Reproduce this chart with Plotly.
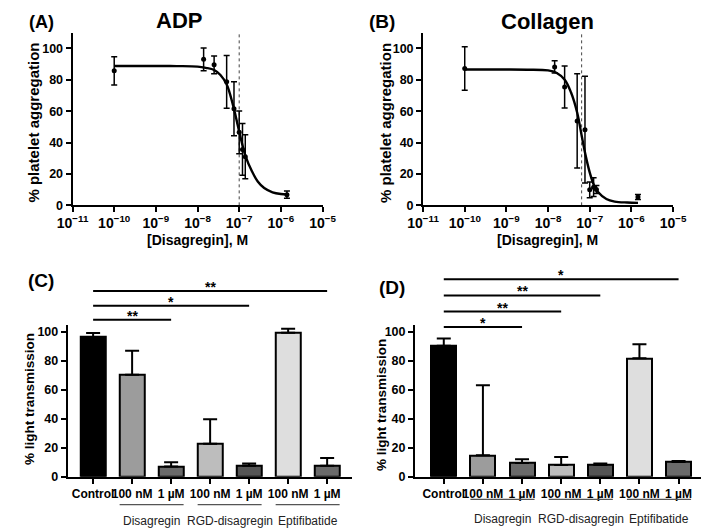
import plotly.graph_objects as go

# ---------------- data ----------------
# (A) ADP dose-response
adp_conc = [1e-10, 1.4e-8, 2.5e-8, 5e-8, 7.5e-8, 1e-7, 1.2e-7, 1.4e-7, 1.4e-6]
adp_mean = [85.7, 93.0, 89.5, 78.7, 61.5, 46.5, 35.6, 31.0, 6.8]
adp_sd = [9.0, 7.3, 5.6, 16.8, 17.2, 13.6, 16.5, 14.0, 2.3]
adp_fit_logx = [-10, -9, -8.5, -8, -7.8, -7.6, -7.45, -7.3, -7.15, -7.0, -6.85, -6.7, -6.55, -6.4, -6.2, -6.0, -5.85]
adp_fit_y = [88.8, 88.8, 88.7, 88.4, 87.6, 86.2, 83.0, 77.0, 64.0, 47.0, 31.5, 22.0, 15.0, 11.0, 8.3, 7.2, 6.9]
adp_ic50 = 1e-7

# (B) Collagen dose-response
col_conc = [1e-10, 1.44e-8, 2.5e-8, 5e-8, 7.7e-8, 1e-7, 1.24e-7, 1.45e-7, 1.44e-6]
col_mean = [87.2, 88.2, 75.4, 53.8, 48.2, 9.9, 11.6, 10.1, 5.3]
col_sd = [13.8, 3.9, 13.4, 30.0, 34.0, 5.0, 6.0, 2.6, 1.6]
col_fit_logx = [-10, -9, -8.5, -8, -7.8, -7.6, -7.45, -7.3, -7.19, -7.1, -7.0, -6.9, -6.8, -6.6, -6.4, -6.1, -5.84]
col_fit_y = [86.5, 86.5, 86.4, 86.0, 84.5, 80.0, 72.0, 59.0, 44.0, 32.0, 21.0, 13.0, 8.5, 4.0, 2.4, 1.8, 1.6]
col_ic50 = 6.4e-8

x_tick_exps = [-11, -10, -9, -8, -7, -6, -5]

# (C)/(D) bar charts
bar_labels = ["Control", "100 nM", "1 µM", "100 nM", "1 µM", "100 nM", "1 µM"]
bar_colors = ["#000000", "#9c9c9c", "#6a6a6a", "#bdbdbd", "#555555", "#dedede", "#6a6a6a"]
c_values = [96.5, 70.5, 7.0, 22.7, 7.5, 99.5, 7.5]
c_err = [2.8, 16.5, 3.0, 17.0, 1.6, 2.7, 5.5]
d_values = [90.5, 14.8, 9.5, 8.0, 8.0, 81.8, 10.2]
d_err = [5.0, 48.4, 2.5, 5.6, 1.1, 9.8, 0.7]

groups = ["Disagregin", "RGD-disagregin", "Eptifibatide"]
group_members = [[1, 2], [3, 4], [5, 6]]

# significance comparisons: (from bar, to bar, label)
c_sig = [(0, 2, "**"), (0, 4, "*"), (0, 6, "**")]
d_sig = [(0, 2, "*"), (0, 3, "**"), (0, 4, "**"), (0, 6, "*")]

# ---------------- layout helpers ----------------
W, H = 709, 528
FONT = "Liberation Sans, Arial, sans-serif"


def px(xp):
    return xp / W


def py(yp):
    return 1 - yp / H


fig = go.Figure()

# ---- (A) ----
fig.add_trace(go.Scatter(x=[adp_ic50, adp_ic50], y=[0, 110], mode="lines",
                         line=dict(color="#444444", width=1, dash="dot"),
                         xaxis="x", yaxis="y", hoverinfo="skip"))
fig.add_trace(go.Scatter(x=[10 ** v for v in adp_fit_logx], y=adp_fit_y, mode="lines",
                         line=dict(color="black", width=2.4, shape="spline"),
                         xaxis="x", yaxis="y"))
fig.add_trace(go.Scatter(x=adp_conc, y=adp_mean, mode="markers",
                         marker=dict(color="black", size=5),
                         error_y=dict(type="data", array=adp_sd, color="black", thickness=1.5, width=3),
                         xaxis="x", yaxis="y"))

# ---- (B) ----
fig.add_trace(go.Scatter(x=[col_ic50, col_ic50], y=[0, 110], mode="lines",
                         line=dict(color="#444444", width=1, dash="dot"),
                         xaxis="x2", yaxis="y2", hoverinfo="skip"))
fig.add_trace(go.Scatter(x=[10 ** v for v in col_fit_logx], y=col_fit_y, mode="lines",
                         line=dict(color="black", width=2.4, shape="spline"),
                         xaxis="x2", yaxis="y2"))
fig.add_trace(go.Scatter(x=col_conc, y=col_mean, mode="markers",
                         marker=dict(color="black", size=5),
                         error_y=dict(type="data", array=col_sd, color="black", thickness=1.5, width=3),
                         xaxis="x2", yaxis="y2"))

# ---- (C) & (D) bars ----
xs = list(range(len(bar_labels)))
for vals, errs, xa, ya in [(c_values, c_err, "x3", "y3"), (d_values, d_err, "x4", "y4")]:
    fig.add_trace(go.Bar(x=xs, y=vals, width=0.64,
                         marker=dict(color=bar_colors, line=dict(color="black", width=2)),
                         error_y=dict(type="data", symmetric=False, array=errs,
                                      arrayminus=[0] * len(errs), color="black",
                                      thickness=2, width=7),
                         xaxis=xa, yaxis=ya))

tickfont = dict(family=FONT, size=12.5, color="black", weight="bold")
common_axis = dict(showline=True, linecolor="black", linewidth=2, ticks="outside",
                   ticklen=5, tickwidth=2, tickcolor="black", showgrid=False,
                   zeroline=False, tickfont=tickfont, fixedrange=True)
logx_axis = {**common_axis, "tickfont": dict(tickfont, size=14), "ticklabelstandoff": -1}
barx_axis = {**common_axis, "tickfont": dict(tickfont, size=12)}

log_ticktext = ["10<sup>\u2212%d</sup>" % (-e) for e in x_tick_exps]
log_tickvals = [10 ** e for e in x_tick_exps]

ydom_top = [py(200), py(25)]
ydom_bot = [py(475), py(321)]

fig.update_layout(
    width=W, height=H,
    margin=dict(l=0, r=0, t=0, b=0),
    paper_bgcolor="white", plot_bgcolor="white",
    showlegend=False, bargap=0,
    font=dict(family=FONT, color="black"),
    xaxis=dict(domain=[px(50.7), px(311.7)], anchor="y", type="log", range=[-11, -5],
               tickvals=log_tickvals, ticktext=log_ticktext, tickangle=0, **logx_axis),
    yaxis=dict(domain=ydom_top, anchor="x", range=[0, 110], tickvals=[0, 20, 40, 60, 80, 100],
               **common_axis),
    xaxis2=dict(domain=[px(416.7), px(677.7)], anchor="y2", type="log", range=[-11, -5],
                tickvals=log_tickvals, ticktext=log_ticktext, tickangle=0, **logx_axis),
    yaxis2=dict(domain=ydom_top, anchor="x2", range=[0, 110], tickvals=[0, 20, 40, 60, 80, 100],
                **common_axis),
    xaxis3=dict(domain=[px(45.7), px(343)], anchor="y3", range=[-0.65, 6.65],
                tickvals=xs, ticktext=bar_labels, tickangle=0, **barx_axis),
    yaxis3=dict(domain=ydom_bot, anchor="x3", range=[0, 105], tickvals=[0, 20, 40, 60, 80, 100],
                **common_axis),
    xaxis4=dict(domain=[px(408.3), px(708)], anchor="y4", range=[-0.735, 6.6],
                tickvals=xs, ticktext=bar_labels, tickangle=0, **barx_axis),
    yaxis4=dict(domain=ydom_bot, anchor="x4", range=[0, 105], tickvals=[0, 20, 40, 60, 80, 100],
                **common_axis),
)

ann = []
shapes = []


def text(x, y, s, size, bold=True, angle=0, xanchor="center", yanchor="middle",
         xref="paper", yref="paper", color="black"):
    ann.append(dict(x=x, y=y, text=s, showarrow=False, xref=xref, yref=yref,
                    xanchor=xanchor, yanchor=yanchor, textangle=angle,
                    font=dict(family=FONT, size=size, color=color,
                              weight="bold" if bold else "normal")))


# panel letters and titles
text(px(3), py(14), "(A)", 18, xanchor="left")
text(px(358), py(14), "(B)", 19, xanchor="left")
text(px(2), py(276), "(C)", 19, xanchor="left")
text(px(369), py(283), "(D)", 19, xanchor="left")
text(px(161.5), py(13), "ADP", 22)
text(px(546.5), py(14), "Collagen", 22)

# axis titles
text(px(9.5), py(116), "% platelet aggregation", 15, angle=-90)
text(px(377.5), py(117), "% platelet aggregation", 15, angle=-90)
text(px(181.5), py(235), "[Disagregin], M", 14)
text(px(547), py(235), "[Disagregin], M", 14)
text(px(6.5), py(396), "% light transmission", 13.5, angle=-90)
text(px(373), py(402), "% light transmission", 13.5, angle=-90)

# significance bars
for sig, xa, line_ys in [(c_sig, "x3", [316, 301.7, 286.7]), (d_sig, "x4", [323.3, 307.7, 291.3, 275])]:
    for (a, b, lab), ly in zip(sig, line_ys):
        shapes.append(dict(type="line", xref=xa, yref="paper", x0=xs[a], x1=xs[b],
                           y0=py(ly), y1=py(ly), line=dict(color="black", width=2)))
        text((xs[a] + xs[b]) / 2, py(ly - 4), lab, 14, xref=xa)

# group lines + labels
for xa, line_y, lab_y in [("x3", 503.3, 519.5), ("x4", 498, 517.5)]:
    for g, members in zip(groups, group_members):
        c = sum(xs[m] for m in members) / len(members)
        shapes.append(dict(type="line", xref=xa, yref="paper", x0=c - 0.82, x1=c + 0.82,
                           y0=py(line_y), y1=py(line_y), line=dict(color="#555555", width=1.2)))
        text(c, py(lab_y), g, 12, bold=False, xref=xa, color="#222222")

fig.update_layout(annotations=ann, shapes=shapes)
fig.write_html("out.html")
